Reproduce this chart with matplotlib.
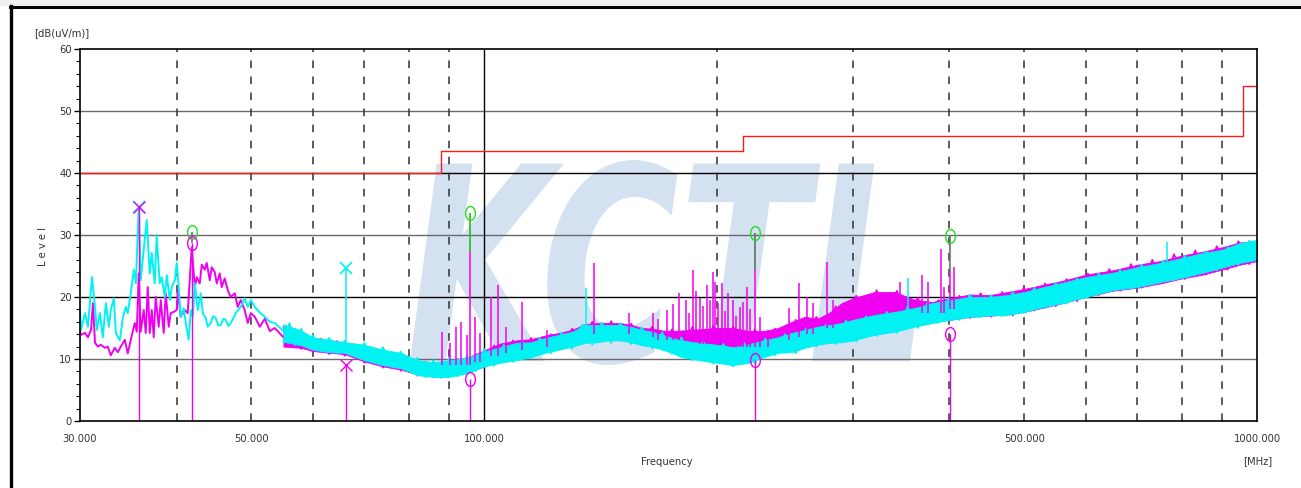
import numpy as np
import matplotlib
matplotlib.use('Agg')
import matplotlib.pyplot as plt
from matplotlib.path import Path
from matplotlib.patches import PathPatch, Rectangle
from matplotlib.textpath import TextPath
from matplotlib.font_manager import FontProperties
from matplotlib.transforms import Affine2D
from matplotlib.lines import Line2D
from matplotlib.ticker import FixedLocator, MultipleLocator, NullLocator

plt.rcParams['font.family'] = ['Liberation Sans Narrow', 'DejaVu Sans']
plt.rcParams['font.stretch'] = 'condensed'

# --- data (MHz, dB(uV/m)) ---
# low band, trace by trace
cyan_low_f = [30.0, 30.09, 30.45, 30.72, 31.09, 31.37, 31.55, 31.83, 32.11, 32.40, 32.69, 32.88,
              33.18, 33.38, 33.78, 34.08, 34.39, 34.59, 34.90, 35.22, 35.43, 35.74, 35.95, 36.27,
              36.60, 36.93, 37.15, 37.48, 37.70, 38.04, 38.27, 38.62, 38.85, 39.20, 39.43, 39.79,
              40.02, 40.26, 40.50, 40.87, 41.11, 41.48, 41.73, 41.98, 42.23, 42.61, 42.99, 43.25,
              43.63, 43.90, 44.29, 44.60, 44.95, 45.30, 45.63, 46.00, 46.31, 46.70, 47.00, 47.30,
              47.71, 48.43, 49.00, 49.45, 49.90, 50.50, 51.26, 52.03, 52.81, 53.60, 55.0]
cyan_low_db = [17.9, 14.7, 17.4, 15.2, 23.2, 18.4, 14.7, 17.4, 13.5, 19.0, 15.2, 17.9,
               19.8, 14.2, 13.0, 16.6, 18.4, 17.4, 20.6, 24.4, 22.2, 34.5, 22.7, 27.6,
               32.4, 23.8, 27.1, 22.2, 30.0, 22.2, 23.2, 20.0, 23.5, 19.5, 21.6, 22.7,
               25.5, 21.6, 16.8, 18.2, 15.8, 13.1, 17.9, 16.8, 22.2, 17.9, 20.6, 17.4,
               16.6, 15.2, 15.8, 16.9, 16.6, 15.4, 15.5, 16.5, 16.3, 15.3, 15.8, 16.4,
               17.4, 18.4, 19.8, 18.4, 19.5, 18.4, 17.5, 16.8, 16.0, 15.8, 14.5]

mag_low_f = [30.0, 30.09, 30.45, 30.72, 31.0, 31.18, 31.37, 31.65, 31.92, 32.30, 32.59, 32.88,
             33.28, 33.58, 33.88, 34.28, 34.59, 34.90, 35.32, 35.53, 35.74, 35.95, 36.27, 36.49,
             36.71, 36.93, 37.15, 37.37, 37.59, 37.93, 38.16, 38.50, 38.73, 39.08, 39.31, 39.67,
             40.02, 40.14, 40.50, 40.99, 41.35, 41.85, 42.23, 42.48, 42.86, 43.12, 43.50, 43.76,
             44.16, 44.42, 44.82, 45.09, 45.49, 45.76, 46.17, 46.59, 47.0, 47.57, 48.0, 48.43,
             49.0, 49.45, 49.90, 50.50, 51.26, 52.03, 52.81, 53.60, 55.0]
mag_low_db = [14.4, 13.9, 14.2, 13.5, 14.7, 19.0, 12.6, 12.0, 12.3, 11.8, 12.0, 10.6,
              11.8, 11.1, 12.0, 13.1, 10.9, 13.1, 15.8, 14.4, 23.8, 14.4, 17.9, 14.2,
              21.6, 14.2, 17.9, 13.5, 20.0, 15.2, 19.5, 14.2, 20.6, 15.2, 17.4, 17.6,
              17.9, 21.1, 16.8, 17.9, 17.4, 28.0, 21.6, 23.2, 22.2, 25.2, 24.4, 25.5,
              22.7, 24.8, 24.0, 22.2, 23.8, 21.6, 23.0, 21.1, 20.0, 20.6, 18.4, 19.5,
              17.9, 15.8, 17.4, 16.8, 15.2, 16.5, 14.5, 15.0, 13.5]

# dense part of the sweep: lower / upper edge of each noise band
band_f = [55, 58, 60, 63, 66, 70, 74, 78, 82, 86, 90, 95, 100,
          105, 110, 115, 120, 125, 130, 135, 140, 145, 150, 155, 160, 165, 170, 175, 180,
          190, 200, 210, 220, 230, 240, 250, 260, 270, 280, 290, 300,
          320, 340, 360, 380, 400, 425, 450, 475, 500, 530, 560, 600, 650, 700, 750, 800,
          850, 900, 950, 1000]
cyan_lo = [12.8, 12.2, 11.5, 11.1, 11.0, 9.8, 9.0, 8.5, 7.4, 7.1, 7.1, 7.7, 8.8,
           9.4, 9.8, 10.3, 11.0, 11.5, 12.0, 12.6, 12.7, 13.0, 13.0, 12.7, 12.2, 12.0, 11.5, 11.0, 10.3,
           9.8, 9.4, 9.0, 9.4, 10.3, 11.0, 11.1, 11.8, 12.3, 12.6, 12.7, 13.0,
           13.9, 14.4, 15.2, 15.8, 16.3, 16.8, 17.0, 17.1, 17.6, 18.4, 19.0, 20.0, 21.1, 21.6, 22.4, 23.1,
           23.9, 24.7, 25.5, 26.0]
cyan_hi = [15.6, 14.6, 13.5, 13.1, 12.7, 12.3, 11.5, 11.0, 9.8, 9.5, 9.8, 10.2, 11.2,
           11.9, 12.6, 12.7, 13.4, 13.9, 14.4, 15.5, 15.5, 15.5, 15.5, 15.2, 14.7, 14.4, 13.9, 13.4, 13.0,
           12.6, 12.3, 11.9, 12.4, 13.0, 13.5, 14.2, 14.7, 15.2, 15.5, 15.8, 16.3,
           17.1, 17.6, 18.2, 19.0, 19.5, 20.0, 20.0, 20.3, 20.8, 21.6, 22.3, 23.2, 23.9, 24.8, 25.5, 26.3,
           27.1, 27.6, 28.7, 29.2]
mag_lo = [12.0, 11.8, 11.3, 11.0, 10.8, 9.6, 8.8, 8.3, 7.5, 7.2, 7.3, 7.8, 8.8,
          9.8, 10.0, 10.6, 11.2, 11.7, 12.2, 12.8, 13.0, 13.2, 13.2, 13.0, 12.6, 12.3, 12.0, 11.8, 11.5,
          11.2, 11.0, 11.0, 10.8, 11.0, 11.6, 12.5, 13.3, 13.5, 14.3, 15.5, 16.3,
          17.0, 16.8, 16.3, 16.3, 16.3, 16.8, 17.0, 17.2, 17.6, 18.3, 19.0, 20.0, 21.0, 21.5, 22.2, 23.0,
          23.6, 24.4, 25.2, 25.8]
mag_hi = [15.0, 14.0, 13.2, 13.0, 12.6, 12.0, 11.2, 10.7, 9.7, 9.3, 9.7, 10.2, 11.4,
          12.5, 13.0, 13.2, 13.8, 14.2, 14.7, 15.6, 15.8, 15.8, 15.8, 15.5, 15.0, 14.9, 14.6, 14.5, 14.6,
          14.8, 15.0, 15.0, 14.5, 14.5, 15.0, 16.0, 16.8, 16.5, 17.5, 19.0, 19.8,
          20.8, 20.8, 19.6, 19.2, 19.8, 20.4, 20.3, 20.8, 21.3, 22.0, 22.6, 23.6, 24.3, 25.2, 25.8, 26.7,
          27.3, 28.0, 28.8, 29.0]

# up/down swing of the sweep inside the bands (gives the ragged edges)
zig_f = [55, 56, 57, 58, 59, 60, 61.5, 63, 64.5, 66, 68, 70, 72, 74, 76, 78, 80, 82, 84, 86,
         88, 90, 92.5, 95, 97.5, 100, 103, 106, 109, 112, 115, 118, 122, 126, 130, 134, 138, 142,
         146, 150, 155, 160, 165, 170, 175, 180, 186, 192, 198, 204, 210, 217, 224, 231, 238, 245,
         253, 261, 269, 277, 285, 294, 303, 312, 322, 332, 342, 353, 364, 375, 387, 399, 412, 425,
         439, 453, 468, 483, 499, 515, 532, 549, 567, 585, 604, 624, 644, 665, 687, 709, 732, 756,
         781, 806, 832, 859, 887, 916, 946, 977, 1000]
cyan_zig = [12.6, 15.8, 12.2, 14.9, 11.9, 13.9, 11.2, 13.4, 11.0, 13.0, 10.4, 12.6, 9.6, 11.9,
            8.8, 11.2, 8.0, 10.2, 7.0, 9.8, 6.9, 10.1, 7.2, 10.5, 8.0, 11.6, 8.9, 12.3, 9.5, 12.9,
            10.1, 13.4, 10.9, 14.2, 11.7, 15.6, 12.3, 15.9, 12.6, 15.8, 12.4, 15.1, 11.7, 14.3, 10.8,
            13.5, 9.8, 12.9, 9.2, 12.5, 8.8, 12.6, 9.3, 13.3, 10.6, 14.0, 10.9, 15.0, 12.0, 15.6,
            12.4, 16.2, 12.8, 16.9, 13.7, 17.6, 14.2, 18.4, 15.0, 19.2, 15.8, 19.8, 16.3, 20.4, 16.7,
            20.3, 16.9, 20.8, 17.4, 21.5, 18.2, 22.3, 18.9, 23.0, 19.8, 23.8, 20.8, 24.4, 21.3, 25.2,
            22.0, 25.9, 22.7, 26.7, 23.5, 27.4, 24.3, 28.0, 25.2, 29.1, 26.0]
mag_zig = [15.2, 12.0, 14.4, 11.6, 13.7, 11.1, 13.3, 10.8, 12.9, 10.5, 12.4, 9.4, 11.7, 8.6,
           11.0, 8.1, 10.2, 7.3, 9.6, 7.0, 9.5, 7.1, 10.0, 7.6, 10.8, 8.6, 12.2, 9.6, 13.0, 10.2,
           13.4, 10.9, 14.0, 11.6, 14.9, 12.6, 16.0, 12.9, 16.1, 13.0, 15.7, 12.5, 15.2, 11.9, 14.8,
           11.4, 15.2, 11.1, 15.4, 10.9, 15.3, 10.8, 14.8, 10.9, 14.9, 11.9, 16.3, 13.1, 16.8, 14.1,
           18.5, 15.7, 20.2, 16.6, 21.1, 16.9, 21.0, 16.5, 19.9, 16.1, 19.5, 16.1, 20.2, 16.6, 20.6,
           16.8, 20.8, 17.0, 21.5, 17.8, 22.2, 18.5, 22.9, 19.3, 23.8, 20.3, 24.5, 21.0, 25.3, 21.5,
           26.0, 22.2, 26.9, 22.9, 27.5, 23.6, 28.2, 24.4, 29.0, 25.3, 29.2]

# narrow spikes rising out of the bands
mag_spike_f = [88.2, 90.3, 91.9, 93.4, 95.0, 96.0, 97.3, 98.8, 102.1, 104.2, 106.7, 112.0, 120.6,
               138.8, 154.0, 165.4, 168.0, 172.4, 175.5, 178.7, 182.5, 184.0, 186.3, 188.0, 190.3,
               192.0, 194.3, 196.0, 197.8, 199.0, 201.0, 203.2, 205.0, 206.8, 209.9, 212.0, 214.3,
               216.0, 218.9, 221.0, 224.0, 227.5, 233.0, 248.0, 255.5, 261.7, 266.4, 277.8, 282.8,
               345.3, 368.7, 375.3, 390.1, 393.6, 400.3, 405.6]
mag_spike_top = [14.4, 12.6, 15.2, 16.0, 13.8, 27.3, 16.8, 14.2, 20.0, 21.9, 15.2, 19.2, 14.7,
                 25.5, 17.4, 17.4, 16.5, 17.9, 18.8, 20.6, 19.5, 17.5, 24.4, 21.0, 19.8,
                 18.5, 21.9, 19.5, 24.0, 22.4, 19.0, 22.2, 17.8, 20.6, 19.5, 17.0, 18.4,
                 19.2, 21.6, 18.0, 24.4, 16.8, 14.7, 18.2, 22.2, 20.0, 19.0, 25.6, 19.5,
                 22.4, 23.5, 22.4, 27.7, 21.6, 23.8, 24.8]
mag_spike_base = [9.0, 9.0, 9.0, 9.0, 9.0, 9.0, 9.5, 9.5, 10.5, 10.5, 11.0, 11.5, 12.0,
                  14.0, 14.0, 13.5, 13.0, 13.0, 13.0, 13.0, 13.0, 13.0, 13.0, 13.0, 12.5,
                  12.5, 12.5, 12.5, 12.5, 12.5, 12.5, 12.5, 12.5, 12.5, 12.5, 12.0, 12.0,
                  12.0, 12.0, 12.0, 12.0, 12.0, 12.0, 13.0, 13.5, 14.0, 14.0, 15.0, 15.0,
                  18.0, 17.5, 17.5, 17.5, 17.5, 18.0, 18.0]
cyan_spike_f = [66.3, 135.5, 353.6, 765.0]
cyan_spike_top = [24.7, 21.4, 23.0, 28.9]
cyan_spike_base = [12.5, 15.0, 17.5, 25.0]

# limit line
limit_f = [30, 88, 216, 960, 1000]
limit_db = [40, 43.5, 46, 54, 54]

# marked points
cyan_x_f = [35.74, 66.3]
cyan_x_db = [34.5, 24.7]
mag_x_f = [35.74, 66.3]
mag_x_db = [34.5, 9.0]
green_o_f = [41.85, 96.0, 224.0, 400.3]
green_o_db = [30.5, 33.5, 30.3, 29.8]
green_stem_to = [28.7, 27.3, 24.4, 23.8]
mag_o_f = [41.85, 96.0, 224.0, 400.3]
mag_o_db = [28.7, 6.7, 9.8, 14.0]

x_ticks = [30, 50, 100, 500, 1000]
x_ticklabels = ['30.000', '50.000', '100.000', '500.000', '1000.000']
dash_f = [40, 50, 60, 70, 80, 90, 200, 300, 400, 500, 600, 700, 800, 900]

MAG = '#f000f0'
CYA = '#00f2f2'

W, H = 1301, 488
fig = plt.figure(figsize=(W / 100, H / 100), dpi=100)
ax = fig.add_axes([80 / W, 67 / H, 1177 / W, 372 / H])

# window frame
fig.patches.append(Rectangle((0, 1 - 6 / H), 1, 6 / H, transform=fig.transFigure,
                             facecolor='#f0f0f0', edgecolor='none', zorder=0))
fig.add_artist(Line2D([10 / W, 1], [1 - 6.5 / H] * 2, color='black', lw=2.2,
                      transform=fig.transFigure))
fig.add_artist(Line2D([10.5 / W] * 2, [0, 1 - 6 / H], color='black', lw=2.4,
                      transform=fig.transFigure))

ax.set_xscale('log')
ax.set_xlim(30, 1000)
ax.set_ylim(0, 60)

# watermark
tp = TextPath((0, 0), 'KCTL', size=100,
              prop=FontProperties(family='DejaVu Sans', weight='bold', style='italic',
                                  stretch='normal'))
ext = tp.get_extents()
tr = (Affine2D().translate(-ext.x0, -ext.y0)
      .scale((505 / W) / ext.width, (205 / H) / ext.height)
      .translate(410 / W, 123 / H) + fig.transFigure)
ax.add_patch(PathPatch(tp, transform=tr, facecolor='#d4e1f0', edgecolor='none', zorder=0.1))

# grid
for v in [10, 20, 30, 40, 50]:
    ax.axhline(v, color='black' if v % 20 == 0 else '#6a6a6a', lw=1.0, zorder=1)
for f in dash_f:
    ax.axvline(f, color='#303030', lw=1.1, ls=(0, (5, 5.5)), zorder=1)
ax.axvline(100, color='black', lw=1.0, zorder=1)

# limit
ax.step(limit_f, limit_db, where='post', color='#ff1a1a', lw=1.0, zorder=2)

# magenta trace
ax.fill_between(band_f, mag_lo, mag_hi, color=MAG, lw=0.6, zorder=3)
ax.plot(zig_f, mag_zig, color=MAG, lw=1.2, zorder=3)
ax.plot(mag_low_f, mag_low_db, color=MAG, lw=1.4, zorder=3)
# cyan trace
ax.fill_between(band_f, cyan_lo, cyan_hi, color=CYA, lw=0.6, zorder=4)
ax.plot(zig_f, cyan_zig, color=CYA, lw=1.2, zorder=4)
ax.plot(cyan_low_f, cyan_low_db, color=CYA, lw=1.4, zorder=4)

ax.vlines(mag_spike_f, mag_spike_base, mag_spike_top, color=MAG, lw=1.1, zorder=5)
ax.vlines(cyan_spike_f, cyan_spike_base, cyan_spike_top, color=CYA, lw=1.1, zorder=5)

# marker stems
ax.vlines(mag_x_f, 0, mag_x_db, color=MAG, lw=1.0, zorder=4.5)
ax.vlines(mag_o_f, 0, mag_o_db, color=MAG, lw=1.0, zorder=5)
stem_cols = ['#707070', '#22bb22', '#607060', '#707070']
ax.vlines(green_o_f, green_stem_to, green_o_db, colors=stem_cols, lw=1.2, zorder=5)

circ = Path.unit_circle()
ell = Path(circ.vertices * [0.7, 1.0], circ.codes)
ax.plot(cyan_x_f, cyan_x_db, ls='none', marker='x', ms=9, mew=1.2, color=CYA, zorder=6)
ax.plot(mag_x_f, mag_x_db, ls='none', marker='x', ms=9, mew=1.0, color=MAG, zorder=6)
ax.plot(green_o_f, green_o_db, ls='none', marker=ell, ms=10, mew=1.0, mfc='none',
        mec='#22dd22', zorder=6)
ax.plot(mag_o_f, mag_o_db, ls='none', marker=ell, ms=10, mew=1.0, mfc='none',
        mec=MAG, zorder=6)

# axes styling
for s in ax.spines.values():
    s.set_color('black')
    s.set_linewidth(1.2)
    s.set_zorder(7)
ax.xaxis.set_major_locator(FixedLocator(x_ticks))
ax.xaxis.set_minor_locator(NullLocator())
ax.set_xticklabels(x_ticklabels)
ax.yaxis.set_major_locator(MultipleLocator(10))
ax.yaxis.set_minor_locator(MultipleLocator(2))
ax.tick_params(axis='x', length=0, pad=9, labelsize=8, labelcolor='#333333')
ax.tick_params(axis='y', which='major', length=4, width=1, direction='out', pad=2,
               labelsize=8, labelcolor='#333333')
ax.tick_params(axis='y', which='minor', length=3, width=0.8, direction='out')

fig.text(62 / W, 1 - 33 / H, '[dB(uV/m)]', ha='center', va='center', fontsize=8, color='#333333')
fig.text(43 / W, 1 - 247 / H, 'L e v e l', ha='center', va='center', rotation=90,
         fontsize=8, color='#333333')
fig.text(667 / W, 1 - 462 / H, 'Frequency', ha='center', va='center', fontsize=8, color='#333333')
fig.text(1258 / W, 1 - 461 / H, '[MHz]', ha='center', va='center', fontsize=8, color='#333333')

fig.savefig('out.png', dpi=100, facecolor='white')
